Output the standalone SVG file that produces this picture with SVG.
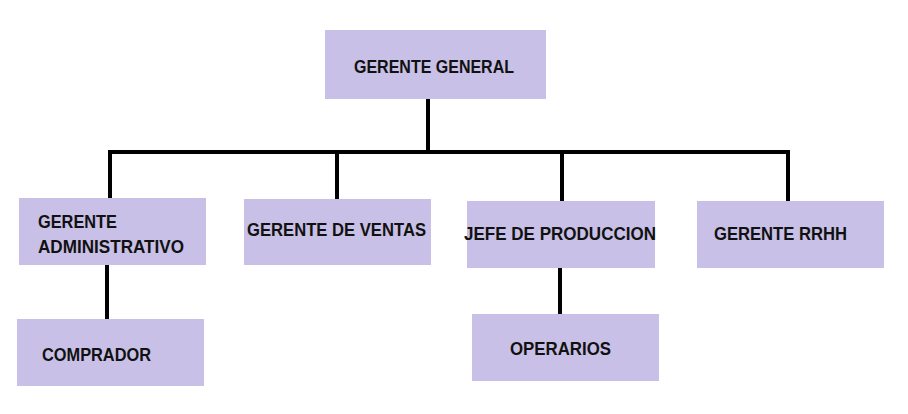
<svg xmlns="http://www.w3.org/2000/svg" width="908" height="414" viewBox="0 0 908 414">
<style>
.box{fill:#c8c0e6;}
.t{font-family:"Liberation Sans",Arial,sans-serif;font-weight:bold;font-size:17.5px;fill:#111;}
.c{stroke:#000;stroke-width:4;fill:none;stroke-linecap:butt;stroke-linejoin:miter;}
</style>
<rect width="908" height="414" fill="#fff"/>
<g id="connectors">
<path class="c" d="M428 99 V152"/>
<path class="c" d="M110 199 V152 H788 V206"/>
<path class="c" d="M337 152 V201"/>
<path class="c" d="M562 152 V202"/>
<path class="c" d="M107 265 V320"/>
<path class="c" d="M560 268 V316"/>
</g>
<g id="gerente-general">
<rect class="box" x="325" y="30" width="221" height="69"/>
<text class="t" x="354" y="73" textLength="160" lengthAdjust="spacingAndGlyphs">GERENTE GENERAL</text>
</g>
<g id="gerente-administrativo">
<rect class="box" x="19" y="198" width="187" height="67"/>
<text class="t" x="38" y="228" textLength="79" lengthAdjust="spacingAndGlyphs">GERENTE</text>
<text class="t" x="38" y="253" textLength="146" lengthAdjust="spacingAndGlyphs">ADMINISTRATIVO</text>
</g>
<g id="gerente-ventas">
<rect class="box" x="244" y="199" width="187" height="66"/>
<text class="t" x="247" y="236" textLength="179" lengthAdjust="spacingAndGlyphs">GERENTE DE VENTAS</text>
</g>
<g id="jefe-produccion">
<rect class="box" x="467" y="201" width="188" height="67"/>
<text class="t" x="464" y="240" textLength="192" lengthAdjust="spacingAndGlyphs">JEFE DE PRODUCCION</text>
</g>
<g id="gerente-rrhh">
<rect class="box" x="697" y="201" width="187" height="67"/>
<text class="t" x="714" y="240" textLength="133" lengthAdjust="spacingAndGlyphs">GERENTE RRHH</text>
</g>
<g id="comprador">
<rect class="box" x="17" y="319" width="187" height="67"/>
<text class="t" x="42" y="361" textLength="109" lengthAdjust="spacingAndGlyphs">COMPRADOR</text>
</g>
<g id="operarios">
<rect class="box" x="472" y="314" width="187" height="67"/>
<text class="t" x="510" y="355" textLength="101" lengthAdjust="spacingAndGlyphs">OPERARIOS</text>
</g>
</svg>
